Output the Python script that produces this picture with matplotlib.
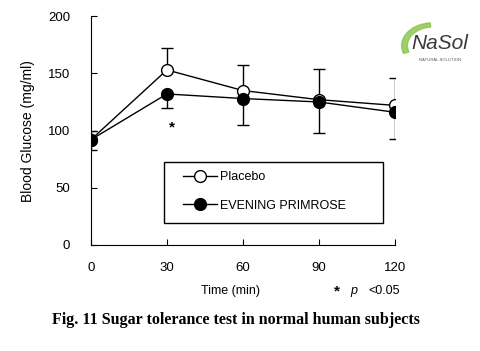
import matplotlib.pyplot as plt
from matplotlib.lines import Line2D
from matplotlib.patches import Wedge, Rectangle

time_min = [0, 30, 60, 90, 120]
placebo = [92, 153, 135, 127, 122]
primrose = [92, 132, 128, 125, 116]
# error bars drawn one-sided: placebo up, primrose down
placebo_err_up = [8, 19, 22, 27, 24]
primrose_err_down = [9, 12, 23, 27, 23]

plt.rcParams['font.family'] = ['Liberation Sans', 'DejaVu Sans']

fig = plt.figure(figsize=(4.81, 3.51), dpi=100)
ax = fig.add_axes([0.189, 0.302, 0.632, 0.652])

ax.errorbar(time_min, placebo, yerr=[[0] * 5, placebo_err_up], color='black',
            lw=1, elinewidth=1, capsize=4, marker='o', ms=8.5, mfc='white',
            mec='black', mew=1, zorder=3)
ax.errorbar(time_min, primrose, yerr=[primrose_err_down, [0] * 5], color='black',
            lw=1, elinewidth=1, capsize=4, marker='o', ms=8.5, mfc='black',
            mec='black', mew=1, zorder=4)

ax.set_xlim(0, 120)
ax.set_ylim(0, 200)
ax.set_xticks(time_min)
ax.set_yticks([0, 50, 100, 150, 200])
ax.spines['top'].set_visible(False)
ax.spines['right'].set_visible(False)
ax.tick_params(direction='in', length=4, labelsize=9.5)
ax.tick_params(axis='y', pad=15)
ax.tick_params(axis='x', pad=12)
for sp in ax.spines.values():
    sp.set_clip_on(False)
ax.set_ylabel('Blood Glucose (mg/ml)', fontsize=10, labelpad=9)

ax.text(32, 103, '*', fontsize=11, ha='center', va='center', fontweight='bold')

# legend box
ax.add_patch(Rectangle((0.24, 0.096), 0.72, 0.266, transform=ax.transAxes,
                       facecolor='white', edgecolor='black', lw=1, zorder=5))
handles = [
    Line2D([], [], color='black', lw=1, marker='o', ms=8.5, mfc='white', mec='black'),
    Line2D([], [], color='black', lw=1, marker='o', ms=8.5, mfc='black', mec='black'),
]
leg = ax.legend(handles, ['Placebo', 'EVENING PRIMROSE'], loc='center left',
                bbox_to_anchor=(0.303, 0.234), borderaxespad=0, borderpad=0,
                fontsize=9, frameon=False, labelspacing=1.3,
                handlelength=2.7, handletextpad=0.25)
leg.set_zorder(6)

fig.text(0.48, 0.17, 'Time (min)', fontsize=9, ha='center', va='center')
fig.text(0.695, 0.17, '*', fontsize=11, ha='left', va='center', fontweight='bold')
fig.text(0.728, 0.17, 'p', fontsize=9, ha='left', va='center', style='italic')
fig.text(0.765, 0.17, '<0.05', fontsize=9, ha='left', va='center')

fig.text(0.49, 0.088, 'Fig. 11 Sugar tolerance test in normal human subjects',
         fontsize=11.5, fontweight='bold', family='Liberation Serif',
         ha='center', va='center')

# logo watermark
fig.patches.append(Wedge((0.9, 0.87), 0.065, 95, 200, width=0.012,
                         transform=fig.transFigure, color='#8bc34a', alpha=0.8))
fig.text(0.915, 0.875, 'NaSol', fontsize=15, style='italic', color='#3a3a3a',
         ha='center', va='center')
fig.text(0.915, 0.83, 'NATURAL SOLUTION', fontsize=3, color='#555555',
         ha='center', va='center')

fig.savefig('out.png', dpi=100)
